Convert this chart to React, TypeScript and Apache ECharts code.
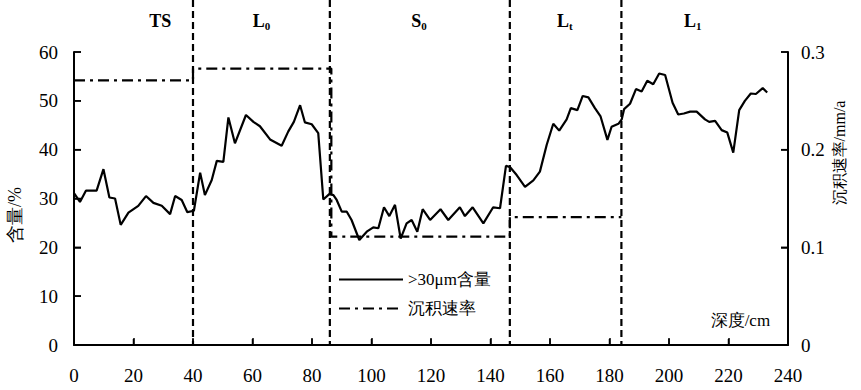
import React, { useEffect, useRef } from "react";
import * as echarts from "echarts";

// >30μm content (%) vs depth (cm)
const depths = [
  0, 2, 4, 7.6, 9.9, 11.9, 13.8, 15.7, 18.3, 21.6, 24.2, 26.7, 29.5, 32.3, 34, 36.2, 38.1, 40.3,
  42.4, 44, 46.3, 48, 50.2, 51.9, 54.1, 57.8, 60.3, 62.5, 65.9, 69.8, 72, 73.9, 76, 77.6, 79.9, 82.1,
  83.8, 85.8, 87.2, 88.3, 90, 91.7, 93.3, 95.9, 98.4, 100.6, 102.3, 104.2, 106, 107.9, 109.8, 111.8,
  113.5, 115.4, 117.2, 119.7, 123.2, 125.8, 129.7, 131.4, 134, 137.6, 140.9, 143.2, 145.2, 146.6,
  148.8, 151.6, 154.4, 156.6, 158.9, 161.1, 163.1, 165.6, 167, 169.2, 171, 172.9, 175.1, 177, 179.3,
  180.7, 183, 184.1, 184.9, 186.9, 188.9, 190.8, 192.7, 194.7, 196.7, 198.7, 201.2, 203.1, 205,
  207.1, 209.3, 212.1, 213.5, 215.5, 217.7, 219.6, 221.6, 223.6, 225.5, 227.5, 229.2, 231.5, 233,
];
const contents = [
  31.1, 29.3, 31.6, 31.6, 36.0, 30.2, 30.0, 24.6, 27.1, 28.5, 30.5, 29.1, 28.5, 26.8, 30.5, 29.7, 27.2, 27.5,
  35.3, 30.7, 33.8, 37.7, 37.5, 46.6, 41.3, 47.1, 45.7, 44.8, 42.1, 40.8, 43.7, 45.7, 49.1, 45.6, 45.2, 43.4,
  29.8, 30.9, 30.7, 29.7, 27.3, 27.3, 25.6, 21.5, 23.2, 24.1, 23.9, 28.2, 26.4, 28.7, 21.8, 24.9,
  25.6, 23.2, 27.8, 25.6, 27.8, 25.6, 28.2, 26.4, 28.2, 24.9, 28.2, 28.0, 36.7, 36.4,
  34.8, 32.4, 33.7, 35.5, 41, 45.3, 43.9, 46.2, 48.5, 48.1, 51, 50.7, 48.5, 46.8, 42,
  44.7, 45.3, 46.2, 48.3, 49.4, 52.4, 51.9, 54.1, 53.4, 55.6, 55.3, 49.6, 47.2, 47.4,
  47.8, 47.8, 46.2, 45.7, 45.9, 44, 43.5, 39.4, 48.1, 50, 51.5, 51.4, 52.6, 51.7,
];

// Sedimentation rate (mm/a) per zone
const zoneNames = ["TS", "L|0", "S|0", "L|t", "L|1"];
const zoneBounds = [0, 40, 86, 146.5, 184, 240];
const rateBounds = [0, 40, 86.5, 146.5, 184];
const rates = [0.271, 0.283, 0.111, 0.131];
const zoneLabelDepths = [29, 63, 116, 165, 208];

const leftTicks = [0, 10, 20, 30, 40, 50, 60];
const rightTicks = [0, 0.1, 0.2, 0.3];
const bottomTicks = [0, 20, 40, 60, 80, 100, 120, 140, 160, 180, 200, 220, 240];

const SERIF = "Liberation Serif";

export default function App() {
  const ref = useRef<HTMLDivElement>(null);
  useEffect(() => {
    if (!ref.current) return;
    document.body.style.margin = "0";
    const chart = echarts.init(ref.current, undefined, { renderer: "svg" });

    const contentData = depths.map((d, i) => [d, contents[i]]);
    const rateData: number[][] = [];
    rates.forEach((r, i) => {
      rateData.push([rateBounds[i], r]);
      rateData.push([rateBounds[i + 1], r]);
    });

    const axisLabelStyle = { fontFamily: SERIF, fontSize: 19, color: "#000" };
    const mkLine = () => ({ show: true, onZero: false, lineStyle: { color: "#000", width: 2, type: "solid" } });
    const mkTick = () => ({ show: true, inside: true, length: 7, lineStyle: { color: "#000", width: 1.5, type: "solid" } });
    chart.setOption({
      animation: false,
      backgroundColor: "#fff",
      textStyle: { fontFamily: SERIF },
      grid: { left: 74, right: 73, top: 52, bottom: 45 },
      xAxis: {
        type: "value",
        min: bottomTicks[0],
        max: bottomTicks[bottomTicks.length - 1],
        interval: 20,
        axisLine: mkLine(),
        axisTick: mkTick(),
        axisLabel: { ...axisLabelStyle, margin: 21 },
        splitLine: { show: false },
      },
      yAxis: [
        {
          type: "value",
          position: "left",
          min: leftTicks[0],
          max: leftTicks[leftTicks.length - 1],
          interval: 10,
          axisLine: mkLine(),
          axisTick: mkTick(),
          axisLabel: { ...axisLabelStyle, margin: 16 },
          splitLine: { show: false },
        },
        {
          type: "value",
          position: "right",
          min: rightTicks[0],
          max: rightTicks[rightTicks.length - 1],
          interval: 0.1,
          axisLine: mkLine(),
          axisTick: mkTick(),
          axisLabel: { ...axisLabelStyle, margin: 13, formatter: (v: number) => (v === 0 ? "0" : v.toFixed(1)) },
          splitLine: { show: false },
        },
      ],
      legend: {
        orient: "vertical",
        left: 333,
        top: 266,
        itemWidth: 64,
        itemHeight: 14,
        itemGap: 12,
        itemStyle: { opacity: 0 },
        textStyle: { fontFamily: SERIF, fontSize: 17, color: "#000" },
        data: [">30μm含量", "沉积速率"],
      },
      series: [
        {
          name: ">30μm含量",
          type: "line",
          data: contentData,
          symbol: "none",
          lineStyle: { color: "#000", width: 2.2 },
          itemStyle: { color: "#000" },
          yAxisIndex: 0,
          z: 3,
        },
        {
          name: "沉积速率",
          type: "line",
          data: rateData,
          symbol: "none",
          lineStyle: { color: "#000", width: 2.2, type: [11, 5, 3, 5] },
          itemStyle: { color: "#000" },
          yAxisIndex: 1,
          z: 2,
        },
      ],
    });

    const px = (d: number) => chart.convertToPixel({ xAxisIndex: 0 }, d) as number;
    const pyL = (v: number) => chart.convertToPixel({ yAxisIndex: 0 }, v) as number;
    const pyR = (v: number) => chart.convertToPixel({ yAxisIndex: 1 }, v) as number;
    const bottomY = pyL(leftTicks[0]);
    const topY = pyL(leftTicks[leftTicks.length - 1]);
    const leftX = px(bottomTicks[0]);
    const rightX = px(bottomTicks[bottomTicks.length - 1]);

    const graphics: any[] = [];
    const stroke = (x1: number, y1: number, x2: number, y2: number, w: number) =>
      graphics.push({ type: "line", shape: { x1, y1, x2, y2 }, style: { stroke: "#000", lineWidth: w }, z: 9 });
    // frame axes (left / right) and inward ticks
    stroke(leftX, topY, leftX, bottomY, 2);
    stroke(rightX, pyR(rightTicks[rightTicks.length - 1]), rightX, bottomY, 2);
    leftTicks.forEach((v) => stroke(leftX, pyL(v), leftX + 7, pyL(v), 1.5));
    rightTicks.forEach((v) => stroke(rightX - 7, pyR(v), rightX, pyR(v), 1.5));
    bottomTicks.forEach((v) => stroke(px(v), bottomY, px(v), bottomY - 6, 1.5));

    zoneBounds.slice(1, -1).forEach((b) => {
      graphics.push({
        type: "line",
        shape: { x1: px(b), y1: 0, x2: px(b), y2: bottomY },
        style: { stroke: "#000", lineWidth: 2.2, lineDash: [7, 4] },
        z: 10,
      });
    });
    zoneNames.forEach((n, i) => {
      const [main, sub] = n.split("|");
      graphics.push({
        type: "text",
        x: px(zoneLabelDepths[i]),
        y: 21,
        style: {
          text: sub ? `{m|${main}}{s|${sub}}` : `{m|${main}}`,
          align: "center",
          verticalAlign: "middle",
          fill: "#000",
          rich: {
            m: { fontFamily: SERIF, fontSize: 18, fontWeight: "bold", fill: "#000", lineHeight: 20 },
            s: { fontFamily: SERIF, fontSize: 11, fontWeight: "bold", fill: "#000", verticalAlign: "bottom", lineHeight: 20, padding: [6, 0, 0, 0] },
          },
        },
        z: 10,
      });
    });
    graphics.push({
      type: "text",
      x: 15,
      y: topY + 163,
      rotation: Math.PI / 2,
      style: { text: "含量/%", fontFamily: SERIF, fontSize: 18, fill: "#000", align: "center", verticalAlign: "middle" },
    });
    graphics.push({
      type: "text",
      x: 839,
      y: topY + 101,
      rotation: Math.PI / 2,
      style: { text: "沉积速率/mm/a", fontFamily: SERIF, fontSize: 16, fill: "#000", align: "center", verticalAlign: "middle" },
    });
    graphics.push({
      type: "text",
      x: px(224),
      y: bottomY - 25,
      style: { text: "深度/cm", fontFamily: SERIF, fontSize: 17, fill: "#000", align: "center", verticalAlign: "middle" },
    });
    chart.setOption({ graphic: graphics });

    return () => chart.dispose();
  }, []);
  return <div ref={ref} style={{ width: 861, height: 390 }} />;
}
